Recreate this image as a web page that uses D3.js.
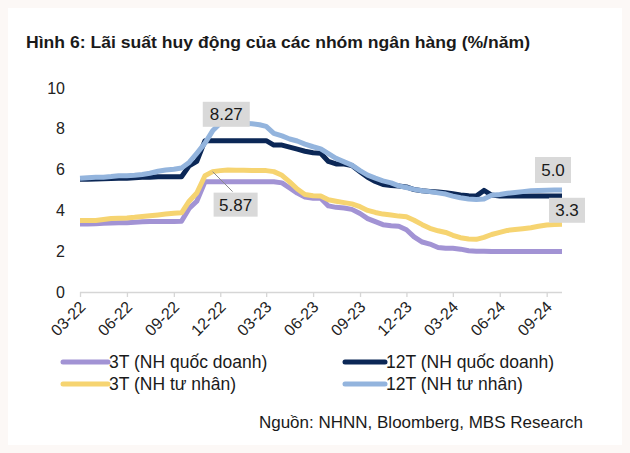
<!DOCTYPE html>
<html>
<head>
<meta charset="utf-8">
<script src="https://cdn.jsdelivr.net/npm/d3@7"></script>
<style>
  html, body { margin: 0; padding: 0; background: #fcf8f6; }
  svg { display: block; font-family: "Liberation Sans", Arial, sans-serif; }
</style>
</head>
<body>
<svg id="chart" width="630" height="453"></svg>
<script>
// ---- DATA ----
const dates = [
  "2022-03-01","2022-03-16","2022-04-01","2022-04-16","2022-05-01","2022-05-16","2022-06-01","2022-06-16",
  "2022-07-01","2022-07-16","2022-08-01","2022-08-16","2022-09-01","2022-09-16","2022-10-01","2022-10-16",
  "2022-11-01","2022-11-16","2022-12-01","2022-12-16","2023-01-01","2023-01-16","2023-02-01","2023-02-16",
  "2023-03-01","2023-03-16","2023-04-01","2023-04-16","2023-05-01","2023-05-16","2023-06-01","2023-06-16",
  "2023-07-01","2023-07-16","2023-08-01","2023-08-16","2023-09-01","2023-09-16","2023-10-01","2023-10-16",
  "2023-11-01","2023-11-16","2023-12-01","2023-12-16","2024-01-01","2024-01-16","2024-02-01","2024-02-16",
  "2024-03-01","2024-03-16","2024-04-01","2024-04-16","2024-05-01","2024-05-16","2024-06-01","2024-06-16",
  "2024-07-01","2024-07-16","2024-08-01","2024-08-16","2024-09-01","2024-09-16","2024-10-01"
];

const seriesNames = ["3T (NH quốc doanh)", "12T (NH quốc doanh)", "3T (NH tư nhân)", "12T (NH tư nhân)"];

const state3T = [
  3.33,3.33,3.35,3.37,3.38,3.40,3.40,3.42,3.44,3.45,3.45,3.45,3.45,3.47,4.10,4.45,
  5.40,5.40,5.40,5.40,5.40,5.40,5.40,5.40,5.40,5.40,5.35,5.10,4.85,4.65,4.60,4.60,
  4.22,4.15,4.12,4.05,3.85,3.60,3.45,3.30,3.25,3.22,3.05,2.70,2.45,2.35,2.18,2.14,
  2.14,2.10,2.02,2.00,2.00,1.98,1.98,1.98,1.98,1.98,1.98,1.98,1.98,1.98,1.98
];
const state12T = [
  5.53,5.53,5.54,5.55,5.56,5.57,5.58,5.60,5.62,5.63,5.65,5.65,5.65,5.65,6.18,6.40,
  7.42,7.42,7.42,7.42,7.42,7.42,7.42,7.42,7.42,7.20,7.20,7.10,7.00,6.90,6.83,6.80,
  6.40,6.28,6.27,6.20,5.90,5.62,5.42,5.27,5.22,5.20,5.15,5.02,4.96,4.93,4.90,4.86,
  4.82,4.76,4.72,4.70,4.98,4.75,4.70,4.70,4.70,4.70,4.70,4.70,4.70,4.70,4.70
];
const private3T = [
  3.50,3.50,3.50,3.55,3.60,3.62,3.63,3.66,3.70,3.74,3.78,3.82,3.86,3.88,4.45,4.85,
  5.70,5.90,5.95,5.98,5.97,5.97,5.96,5.95,5.95,5.90,5.72,5.40,5.05,4.78,4.72,4.70,
  4.52,4.45,4.38,4.32,4.18,4.00,3.90,3.82,3.77,3.72,3.69,3.52,3.30,3.12,3.00,2.92,
  2.78,2.66,2.60,2.58,2.68,2.82,2.92,3.02,3.06,3.10,3.15,3.22,3.28,3.31,3.32
];
const private12T = [
  5.58,5.60,5.62,5.63,5.66,5.70,5.70,5.72,5.76,5.82,5.92,5.98,6.02,6.08,6.35,6.80,
  7.30,7.90,8.27,8.27,8.27,8.27,8.25,8.20,8.12,7.78,7.65,7.50,7.40,7.25,7.12,7.02,
  6.78,6.55,6.38,6.22,5.95,5.73,5.58,5.45,5.35,5.20,5.12,5.03,4.96,4.92,4.86,4.80,
  4.70,4.62,4.56,4.54,4.56,4.74,4.78,4.84,4.88,4.92,4.96,4.98,4.99,5.00,5.00
];

const tickDates = ["2022-03-01","2022-06-01","2022-09-01","2022-12-01","2023-03-01","2023-06-01",
                   "2023-09-01","2023-12-01","2024-03-01","2024-06-01","2024-09-01"];
const tickLabels = ["03-22","06-22","09-22","12-22","03-23","06-23","09-23","12-23","03-24","06-24","09-24"];
const yTicks = [0, 2, 4, 6, 8, 10];

const callouts = [
  { text: "8.27", series: 3, index: 18 },
  { text: "5.87", series: 2, index: 17 },
  { text: "5.0",  series: 3, index: 62 },
  { text: "3.3",  series: 2, index: 62 }
];

const title = "Hình 6: Lãi suất huy động của các nhóm ngân hàng (%/năm)";
const source = "Nguồn: NHNN, Bloomberg, MBS Research";

// ---- DRAWING ----
const colors = ["#a293d4", "#0b2756", "#f6d471", "#93b4dd"];
const seriesValues = [state3T, state12T, private3T, private12T];
const parse = d3.timeParse("%Y-%m-%d");
const dts = dates.map(parse);

const svg = d3.select("#chart");
svg.append("rect").attr("x", 8).attr("y", 8).attr("width", 614).attr("height", 437).attr("fill", "#ffffff");

const x = d3.scaleTime().domain([parse("2022-03-01"), parse("2024-10-01")]).range([80, 562]);
const y = d3.scaleLinear().domain([0, 10]).range([292, 88]);

// title
svg.append("text").attr("x", 26).attr("y", 48)
  .attr("font-size", 16).attr("font-weight", "bold").attr("fill", "#1a1a1a")
  .attr("textLength", 504).attr("lengthAdjust", "spacingAndGlyphs")
  .text(title);

// y axis labels (no line)
const yAxis = d3.axisLeft(y).tickValues(yTicks).tickSize(0).tickPadding(0);
const gy = svg.append("g").attr("transform", "translate(65,0)").call(yAxis);
gy.select(".domain").remove();
gy.selectAll("text").attr("font-size", 16).attr("fill", "#222").attr("font-family", "Liberation Sans, Arial, sans-serif");

// x axis
const xAxis = d3.axisBottom(x).tickValues(tickDates.map(parse)).tickSize(5)
  .tickFormat((d, i) => tickLabels[i]);
const gx = svg.append("g").attr("transform", "translate(0,292)").call(xAxis);
gx.select(".domain").attr("stroke", "#d6d6d6").attr("stroke-width", 1.3)
  .attr("d", "M80,0.5H562");
gx.selectAll(".tick line").attr("stroke", "#d6d6d6").attr("stroke-width", 1.3);
gx.selectAll(".tick text")
  .attr("font-size", 16).attr("fill", "#222").attr("font-family", "Liberation Sans, Arial, sans-serif")
  .attr("text-anchor", "end").attr("dy", "0.35em")
  .attr("transform", "translate(2,12) rotate(-45)")
  .attr("y", 0).attr("x", 0);

// lines
const line = d3.line().x((d, i) => x(dts[i])).y(d => y(d));
seriesValues.forEach((vals, s) => {
  svg.append("path").datum(vals)
    .attr("d", line)
    .attr("fill", "none").attr("stroke", colors[s])
    .attr("stroke-width", 5).attr("stroke-linejoin", "round");
});

// callouts
function box(cx, cy, w, h, txt) {
  svg.append("rect").attr("x", cx - w / 2).attr("y", cy - h / 2).attr("width", w).attr("height", h)
    .attr("fill", "#d9d9d9");
  svg.append("text").attr("x", cx).attr("y", cy).attr("dy", "0.36em").attr("text-anchor", "middle")
    .attr("font-size", 17).attr("fill", "#1a1a1a").text(txt);
}
{
  const c = callouts[0];
  const px = x(dts[c.index]), py = y(seriesValues[c.series][c.index]);
  box(px + 6, py - 9, 47, 25, c.text);
}
{
  const c = callouts[1];
  const px = x(dts[c.index]), py = y(seriesValues[c.series][c.index]);
  svg.append("line").attr("x1", px).attr("y1", py).attr("x2", px + 20).attr("y2", py + 20)
    .attr("stroke", "#8c8c8c").attr("stroke-width", 1);
  box(px + 23, py + 33, 44, 24, c.text);
}
{
  const c = callouts[2];
  const px = x(dts[c.index]), py = y(seriesValues[c.series][c.index]);
  box(px - 9, py - 20, 36, 26, c.text);
}
{
  const c = callouts[3];
  const px = x(dts[c.index]), py = y(seriesValues[c.series][c.index]);
  box(px + 5, py - 14, 36, 25, c.text);
}

// legend
const legendPos = [[63, 362], [345, 362], [63, 384], [345, 384]];
seriesNames.forEach((name, s) => {
  const [lx, ly] = legendPos[s];
  const w = s % 2 === 0 ? 45 : 40;
  svg.append("line").attr("x1", lx).attr("x2", lx + w).attr("y1", ly).attr("y2", ly)
    .attr("stroke", colors[s]).attr("stroke-width", 5).attr("stroke-linecap", "round");
  svg.append("text").attr("x", lx + w + 1).attr("y", ly).attr("dy", "0.36em")
    .attr("font-size", 17.5).attr("fill", "#1a1a1a").text(name);
});

// source
svg.append("text").attr("x", 583).attr("y", 422).attr("dy", "0.36em").attr("text-anchor", "end")
  .attr("font-size", 17).attr("fill", "#1a1a1a").text(source);
</script>
</body>
</html>
